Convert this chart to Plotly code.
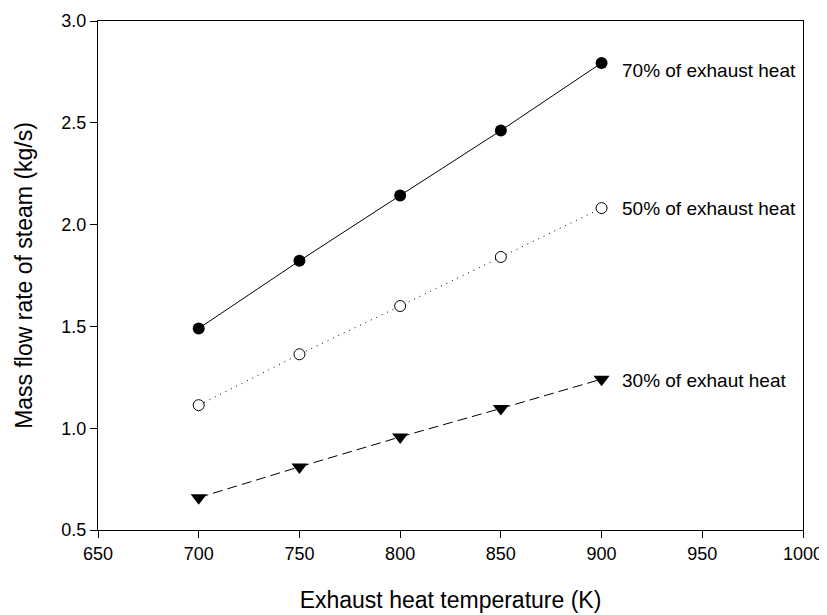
import plotly.graph_objects as go

temperature = [700, 750, 800, 850, 900]
flow_70 = [1.49, 1.822, 2.143, 2.462, 2.794]
flow_50 = [1.113, 1.363, 1.60, 1.841, 2.081]
flow_30 = [0.659, 0.81, 0.957, 1.097, 1.241]
series_labels = ["70% of exhaust heat", "50% of exhaust heat", "30% of exhaut heat"]
x_ticks = [650, 700, 750, 800, 850, 900, 950, 1000]
y_ticks = [0.5, 1.0, 1.5, 2.0, 2.5, 3.0]

FONT = "Arial, Liberation Sans, sans-serif"

fig = go.Figure()
fig.add_trace(go.Scatter(
    x=temperature, y=flow_70, mode="lines+markers", name=series_labels[0],
    line=dict(color="black", width=1),
    marker=dict(symbol="circle", size=12, color="black"),
))
fig.add_trace(go.Scatter(
    x=temperature, y=flow_50, mode="lines+markers", name=series_labels[1],
    line=dict(color="black", width=1, dash="1px,5px"),
    marker=dict(symbol="circle", size=11, color="white", line=dict(color="black", width=1)),
))
fig.add_trace(go.Scatter(
    x=temperature, y=flow_30, mode="lines+markers", name=series_labels[2],
    line=dict(color="black", width=1, dash="10px,5px"),
    marker=dict(symbol="triangle-down", size=14, color="black"),
))

shifts = [-8, 0, -1]
for ys, lab, sh in zip([flow_70, flow_50, flow_30], series_labels, shifts):
    fig.add_annotation(
        x=temperature[-1], y=ys[-1], text=lab, showarrow=False,
        xanchor="left", yanchor="middle", xshift=18, yshift=sh,
        font=dict(family=FONT, size=19, color="black"),
    )

axis_common = dict(
    showline=True, linecolor="black", linewidth=1, mirror=True,
    ticks="outside", ticklen=7, tickwidth=1, tickcolor="black",
    showgrid=False, zeroline=False, automargin=False,
    tickfont=dict(family=FONT, size=18, color="black"),
)

# page body has a default 8px margin, so the figure is sized to fit inside it
fig.update_layout(
    width=819, height=607,
    margin=dict(l=90, r=24, t=13, b=85),
    paper_bgcolor="white", plot_bgcolor="white",
    showlegend=False,
    xaxis=dict(range=[650, 1000], tickvals=x_ticks, ticktext=[str(v) for v in x_ticks],
               title=dict(text="Exhaust heat temperature (K)", font=dict(family=FONT, size=23, color="black"), standoff=29),
               **axis_common),
    yaxis=dict(range=[0.5, 3.0], tickvals=y_ticks, ticktext=[f"{v:.1f}" for v in y_ticks],
               title=dict(text="Mass flow rate of steam (kg/s)", font=dict(family=FONT, size=23, color="black"), standoff=22),
               **axis_common),
)

fig.write_html("out.html")
